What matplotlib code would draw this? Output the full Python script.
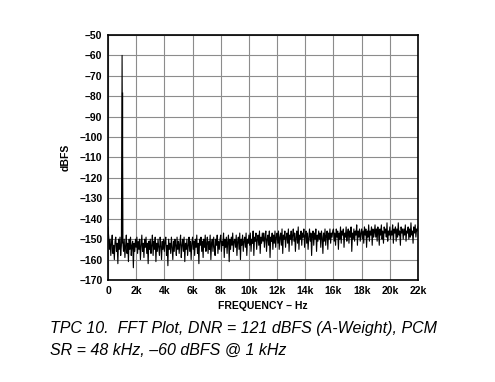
import numpy as np
import matplotlib

matplotlib.use("Agg")
import matplotlib.pyplot as plt

# noise floor, one value every 50 Hz from 0 to 22 kHz
noise_db = [
    -144, -149, -155, -150, -158, -152, -148, -157, -153, -160, -151, -149, -156, -152, -162, -150, -155, -149, -158, -153,
    -60, -151, -156, -150, -159, -153, -148, -157, -152, -161, -150, -155, -149, -158, -153, -151, -164, -152, -156, -150,
    -154, -149, -157, -151, -155, -150, -160, -153, -148, -156, -152, -159, -150, -154, -149, -157, -152, -162, -151, -155,
    -150, -157, -153, -148, -158, -151, -155, -149, -161, -152, -156, -150, -154, -158, -149, -153, -160, -151, -155, -150,
    -156, -151, -149, -158, -153, -163, -150, -155, -152, -157, -149, -154, -160, -151, -156, -150, -153, -158, -149, -155,
    -151, -157, -152, -148, -159, -153, -150, -156, -149, -161, -152, -155, -150, -158, -153, -149, -156, -151, -160, -152,
    -149, -155, -151, -158, -150, -154, -148, -157, -152, -162, -150, -153, -149, -156, -151, -159, -150, -154, -148, -156,
    -152, -149, -157, -151, -155, -148, -160, -152, -150, -156, -149, -154, -158, -150, -153, -148, -157, -151, -155, -150,
    -148, -156, -151, -153, -147, -159, -150, -154, -149, -157, -151, -148, -161, -150, -155, -149, -153, -147, -156, -151,
    -150, -154, -148, -158, -151, -149, -155, -147, -160, -150, -153, -148, -156, -151, -149, -154, -147, -158, -150, -152,
    -148, -153, -147, -156, -150, -152, -146, -158, -149, -151, -147, -155, -150, -148, -153, -146, -157, -149, -152, -147,
    -151, -147, -154, -149, -146, -156, -150, -148, -153, -146, -159, -149, -151, -147, -155, -148, -152, -146, -154, -149,
    -147, -152, -146, -155, -149, -147, -153, -145, -157, -148, -150, -146, -154, -149, -147, -152, -145, -156, -148, -150,
    -146, -153, -148, -145, -151, -147, -156, -149, -146, -152, -144, -155, -148, -150, -146, -153, -147, -149, -145, -154,
    -148, -146, -152, -147, -155, -149, -145, -151, -147, -158, -148, -146, -153, -147, -150, -145, -156, -148, -151, -146,
    -150, -147, -154, -146, -149, -157, -147, -151, -145, -153, -148, -146, -155, -147, -150, -145, -152, -147, -149, -146,
    -145, -151, -147, -153, -145, -149, -146, -155, -147, -150, -144, -152, -146, -148, -145, -154, -147, -149, -144, -151,
    -147, -145, -152, -146, -149, -144, -156, -147, -150, -145, -151, -146, -148, -143, -153, -146, -149, -145, -151, -147,
    -145, -150, -146, -152, -144, -148, -145, -154, -146, -149, -143, -151, -146, -148, -144, -153, -145, -149, -147, -143,
    -149, -145, -151, -144, -147, -153, -145, -148, -143, -150, -146, -152, -144, -147, -145, -149, -142, -151, -146, -148,
    -144, -150, -146, -148, -143, -152, -145, -147, -144, -151, -145, -149, -142, -148, -146, -153, -144, -147, -145, -150,
    -145, -148, -143, -151, -146, -147, -144, -150, -145, -149, -142, -148, -146, -152, -144, -147, -143, -149, -145, -146,
    -144,
]
noise_freq = np.arange(len(noise_db)) * 50.0

# second bin of the 1 kHz tone
tone_freq = [1010]
tone_db = [-78]

x_ticks = [0, 2000, 4000, 6000, 8000, 10000, 12000, 14000, 16000, 18000, 20000, 22000]
x_labels = ["0", "2k", "4k", "6k", "8k", "10k", "12k", "14k", "16k", "18k", "20k", "22k"]
y_ticks = list(range(-170, -49, 10))

plt.rcParams["font.family"] = ["Liberation Sans", "DejaVu Sans"]

fig = plt.figure(figsize=(4.95, 3.82), dpi=100)
ax = fig.add_axes([108 / 495, 1 - 280 / 382, 310 / 495, 245 / 382])

ax.plot(noise_freq, noise_db, color="black", linewidth=0.8)
ax.vlines(tone_freq, -152, tone_db, color="black", linewidth=1.0)

ax.set_xlim(0, 22000)
ax.set_ylim(-170, -50)
ax.set_xticks(x_ticks)
ax.set_xticklabels(x_labels)
ax.set_yticks(y_ticks)
ax.set_yticklabels([f"\u2013{abs(v)}" for v in y_ticks])
ax.tick_params(length=0, labelsize=7.5, pad=4)
for lab in ax.get_xticklabels() + ax.get_yticklabels():
    lab.set_fontweight("bold")

ax.grid(True, color="#8c8c8c", linewidth=0.8)
ax.set_axisbelow(True)
for sp in ax.spines.values():
    sp.set_linewidth(1.2)

ax.set_ylabel("dBFS", fontsize=7.5, fontweight="bold", labelpad=6)
ax.set_xlabel("FREQUENCY \u2013 Hz", fontsize=7.5, fontweight="bold", labelpad=4)

fig.text(50 / 495, 1 - 328 / 382, "TPC 10.  FFT Plot, DNR = 121 dBFS (A-Weight), PCM",
         fontsize=11.5, style="italic", va="center")
fig.text(50 / 495, 1 - 350 / 382, "SR = 48 kHz, \u201360 dBFS @ 1 kHz",
         fontsize=11.5, style="italic", va="center")

fig.savefig("out.png", dpi=100)
